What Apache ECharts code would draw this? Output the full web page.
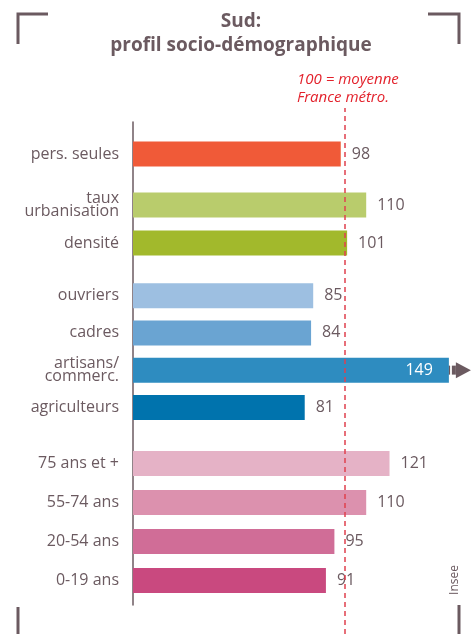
<!DOCTYPE html>
<html>
<head>
<meta charset="utf-8">
<script src="https://cdn.jsdelivr.net/npm/echarts@6/dist/echarts.min.js"></script>
<style>
  html, body { margin: 0; padding: 0; background: #fff; }
  #chart { width: 476px; height: 634px; }
</style>
</head>
<body>
<div id="chart"></div>
<script>
// indices 100 = moyenne France métro.
const catMenages = ['pers. seules'];
const valMenages = [98];
const colMenages = ['#f05a38'];

const catUrbain = ['taux\nurbanisation', 'densité'];
const valUrbain = [110, 101];
const colUrbain = ['#b9cc6c', '#a2b92c'];

const catCsp = ['ouvriers', 'cadres', 'artisans/\ncommerc.', 'agriculteurs'];
const valCsp = [85, 84, 149, 81];
const colCsp = ['#9dbfe1', '#6aa4d2', '#2e8cc0', '#0073ad'];

const catAge = ['75 ans et +', '55-74 ans', '20-54 ans', '0-19 ans'];
const valAge = [121, 110, 95, 91];
const colAge = ['#e5b2c6', '#dc91ae', '#d06d97', '#c9497f'];

const refValue = 100;
const xMax = 160;

const txt = '#6b5a60';
const font = 'Open Sans';

// one grid per group so the gaps between groups stay tighter than a full row
const groupGrids = [
  { top: 135, height: 38 },
  { top: 186, height: 76 },
  { top: 277, height: 149 },
  { top: 444, height: 156 }
];
const groups = [
  [catMenages, valMenages, colMenages],
  [catUrbain, valUrbain, colUrbain],
  [catCsp, valCsp, colCsp],
  [catAge, valAge, colAge]
];

let grid = [], xAxis = [], yAxis = [], series = [];
groups.forEach(function (g, i) {
  grid.push({ left: 133, width: 339.2, top: groupGrids[i].top, height: groupGrids[i].height });
  xAxis.push({ gridIndex: i, type: 'value', min: 0, max: xMax, show: false });
  yAxis.push({
    gridIndex: i, type: 'category', inverse: true, data: g[0],
    axisLine: { show: false }, axisTick: { show: false },
    axisLabel: { color: txt, fontSize: 16, fontFamily: font, margin: 14, lineHeight: 13 }
  });
  series.push({
    type: 'bar', xAxisIndex: i, yAxisIndex: i, barWidth: 25,
    data: g[1].map(function (v, k) {
      let d = { value: v, itemStyle: { color: g[2][k] } };
      if (v > 140) {
        d.label = { position: 'insideRight', distance: 16, color: '#fff' };
      }
      return d;
    }),
    label: { show: true, position: 'right', distance: 11, color: txt, fontSize: 16, fontFamily: font }
  });
});

// vertical axis line across all groups
grid.push({ left: 133, width: 339.2, top: 122, height: 483 });
xAxis.push({ gridIndex: 4, type: 'value', min: 0, max: xMax, show: false });
yAxis.push({
  gridIndex: 4, type: 'value', min: 0, max: 1,
  axisLine: { show: true, lineStyle: { color: txt, width: 1.5 } },
  axisTick: { show: false }, axisLabel: { show: false }, splitLine: { show: false }
});

// dashed reference line at 100
grid.push({ left: 133, width: 339.2, top: 108, bottom: 0 });
xAxis.push({ gridIndex: 5, type: 'value', min: 0, max: xMax, show: false });
yAxis.push({ gridIndex: 5, type: 'value', min: 0, max: 1, show: false });
series.push({
  type: 'bar', xAxisIndex: 5, yAxisIndex: 5, data: [],
  markLine: {
    silent: true, symbol: 'none', label: { show: false },
    lineStyle: { color: '#e0404e', type: [5, 4], width: 1.5 },
    data: [{ xAxis: refValue }]
  }
});

let chart = echarts.init(document.getElementById('chart'));
let option = {
  animation: false,
  grid: grid,
  xAxis: xAxis,
  yAxis: yAxis,
  series: series,
  graphic: [
    {
      type: 'text', x: 241, y: 10,
      style: { text: 'Sud:\nprofil socio-démographique', fill: txt, fontSize: 19, fontWeight: 'bold', fontFamily: font, lineHeight: 24, align: 'center' }
    },
    { type: 'polyline', shape: { points: [[18, 44], [18, 14], [48, 14]] }, style: { stroke: txt, lineWidth: 3, fill: null } },
    { type: 'polyline', shape: { points: [[428, 14], [459, 14], [459, 44]] }, style: { stroke: txt, lineWidth: 3, fill: null } },
    { type: 'line', shape: { x1: 18, y1: 607, x2: 18, y2: 634 }, style: { stroke: txt, lineWidth: 3 } },
    { type: 'line', shape: { x1: 459, y1: 605, x2: 459, y2: 634 }, style: { stroke: txt, lineWidth: 3 } },
    {
      type: 'text', left: 297, top: 71,
      style: { text: '100 = moyenne\nFrance métro.', fill: '#e3222c', fontSize: 15, fontStyle: 'italic', fontFamily: font, lineHeight: 18 }
    },
    {
      type: 'text', x: 455, y: 580, rotation: Math.PI / 2,
      style: { text: 'Insee', fill: txt, fontSize: 12, fontFamily: font, align: 'center', verticalAlign: 'middle' }
    }
  ]
};
chart.setOption(option);

// arrow past the clipped artisans bar
let p = chart.convertToPixel({ xAxisIndex: 2, yAxisIndex: 2 }, [valCsp[2], 2]);
let arrow = [];
for (let k = 0; k < 4; k++) {
  arrow.push({ type: 'rect', shape: { x: p[0] - 10 + k * 3.2, y: p[1] - 4.5, width: 1.6, height: 9 }, style: { fill: txt } });
}
arrow.push({ type: 'rect', shape: { x: p[0] + 3, y: p[1] - 4.5, width: 4, height: 9 }, style: { fill: txt } });
arrow.push({ type: 'polygon', shape: { points: [[p[0] + 7, p[1] - 8], [p[0] + 22, p[1]], [p[0] + 7, p[1] + 8]] }, style: { fill: txt } });
chart.setOption({ graphic: option.graphic.concat(arrow) });
</script>
</body>
</html>
